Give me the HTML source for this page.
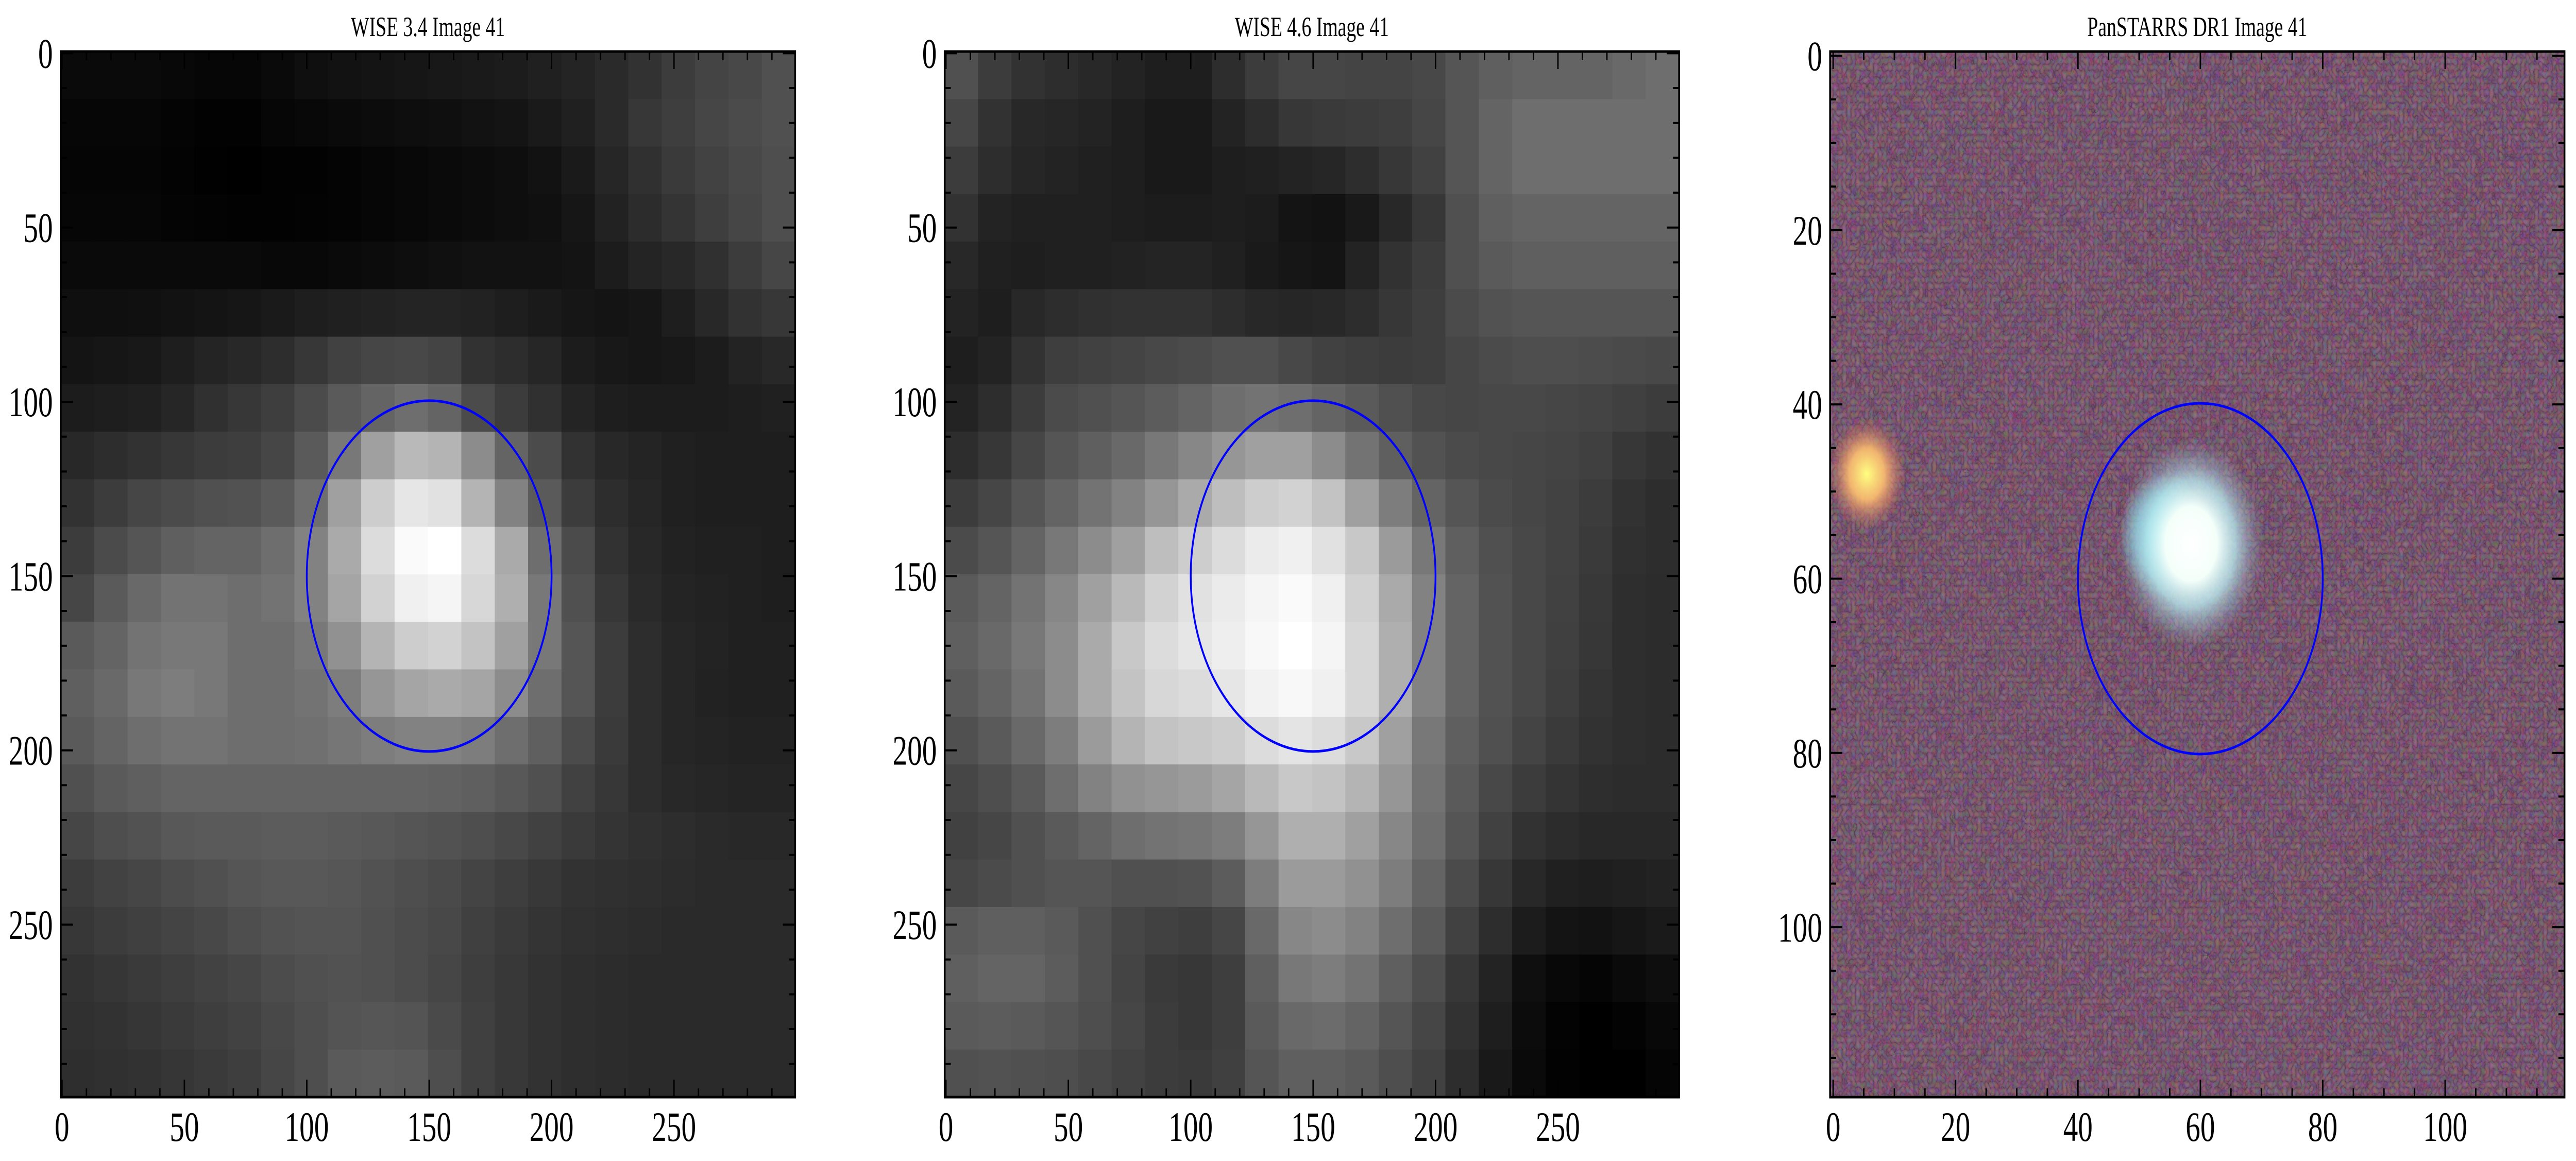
<!DOCTYPE html>
<html><head><meta charset="utf-8"><style>
html,body{margin:0;padding:0;background:#fff;width:100%;height:100%;overflow:hidden;}
svg{display:block;width:100vw;height:100vh;}
text{font-family:"Liberation Serif",serif;fill:#000;}
</style></head><body>
<svg id="fig" viewBox="0 0 7166 2254" preserveAspectRatio="none" xmlns="http://www.w3.org/2000/svg">
<defs>
<radialGradient id="gMain"><stop offset="0" stop-color="#ffffff"/><stop offset="0.35" stop-color="#f4fffa"/><stop offset="0.6" stop-color="#b8e8ee" stop-opacity="0.8"/><stop offset="1" stop-color="#8aa0b8" stop-opacity="0"/></radialGradient>
<radialGradient id="gCyan"><stop offset="0" stop-color="#80ffff"/><stop offset="0.6" stop-color="#80f0ff" stop-opacity="0.6"/><stop offset="1" stop-color="#80f0ff" stop-opacity="0"/></radialGradient>
<radialGradient id="gSec"><stop offset="0" stop-color="#ffff80"/><stop offset="0.45" stop-color="#ffc070" stop-opacity="0.9"/><stop offset="1" stop-color="#e07060" stop-opacity="0"/></radialGradient>
<filter id="noise" x="0" y="0" width="100%" height="100%"><feTurbulence type="turbulence" baseFrequency="0.08" numOctaves="1" seed="3"/><feColorMatrix type="matrix" values="1.4 0 0 0 0  0 1.4 0 0 0  0 0 1.4 0 0  0 0 0 0 0.22"/></filter>
</defs>
</svg>
<script>
const panel1Values = [
[10,10,10,8,6,6,10,15,18,20,22,24,26,28,32,36,42,50,60,68,72,80],
[6,6,6,4,2,2,6,8,10,12,14,15,18,20,26,32,42,55,62,70,75,80],
[5,5,5,3,1,0,2,2,4,6,8,10,12,14,18,26,38,48,58,66,72,78],
[6,6,6,4,3,2,2,3,4,6,8,10,12,14,16,22,34,44,52,62,70,78],
[10,10,10,10,10,10,8,8,10,12,14,16,18,18,18,20,28,36,40,48,60,70],
[15,15,16,18,20,22,26,30,32,34,36,36,34,30,26,22,20,22,30,40,50,55],
[20,22,24,30,36,40,45,55,65,70,72,68,50,45,38,28,24,22,24,28,35,40],
[28,30,32,38,48,55,62,75,90,100,110,100,75,60,48,36,30,28,28,28,30,32],
[40,45,50,55,60,62,70,90,120,160,185,180,140,100,75,50,40,36,32,30,30,30],
[50,60,70,75,80,82,90,110,160,205,230,225,180,130,90,60,45,38,32,30,30,30],
[60,75,85,95,100,100,110,130,170,220,250,255,220,170,110,75,50,40,34,32,32,30],
[70,90,105,115,115,110,115,130,165,210,240,245,215,175,120,80,55,42,36,34,32,30],
[90,100,115,120,120,110,110,120,145,180,205,210,195,160,120,85,60,45,38,35,32,32],
[95,105,120,125,120,110,110,115,125,150,165,170,165,140,110,85,60,45,38,34,32,32],
[90,100,110,115,115,110,110,112,118,125,130,130,125,110,95,75,58,45,38,36,34,34],
[80,90,95,100,100,100,100,100,100,100,100,98,95,88,80,65,55,45,40,38,36,36],
[70,78,82,88,90,90,92,92,90,88,85,82,78,72,65,58,52,48,45,42,40,40],
[60,66,70,76,80,85,88,88,86,82,78,74,68,62,56,50,48,46,44,42,42,42],
[55,60,64,68,72,78,82,84,84,80,76,72,64,58,52,48,46,44,42,42,42,42],
[50,54,58,62,66,70,76,80,82,80,76,70,62,56,50,46,44,42,42,42,42,42],
[48,50,54,58,62,66,72,78,84,86,84,74,64,56,50,46,44,42,42,42,42,42],
[46,48,50,54,58,62,70,78,90,92,90,78,64,56,50,46,44,42,42,42,42,42]
];
const panel2Values = [
[80,60,50,45,40,35,30,30,45,60,70,70,68,68,72,85,95,100,100,100,105,110],
[70,50,40,38,35,30,25,25,35,45,55,58,60,62,70,85,100,110,110,110,110,110],
[60,45,38,35,32,30,25,25,30,32,35,38,45,55,65,85,100,110,110,110,110,110],
[50,35,32,32,32,30,28,28,30,28,20,18,25,40,55,80,95,100,100,100,100,100],
[40,32,30,32,32,34,36,36,32,26,22,20,35,50,60,80,90,95,95,95,95,95],
[35,30,40,45,48,50,50,50,45,40,38,40,45,55,62,75,82,85,85,85,85,85],
[30,35,50,62,65,68,72,75,80,80,72,65,62,60,62,70,75,78,78,76,74,72],
[35,45,60,75,80,85,92,100,110,115,110,100,90,80,72,70,72,72,70,68,64,60],
[45,55,70,85,95,105,120,135,150,160,160,140,115,95,82,75,72,70,68,64,55,50],
[60,70,85,100,115,130,150,170,190,205,210,195,160,125,100,85,75,70,66,60,50,45],
[75,85,100,120,140,160,190,205,220,235,240,225,200,155,120,95,80,72,66,58,48,45],
[90,100,115,135,160,185,210,225,235,245,250,240,210,170,130,100,82,72,65,56,46,44],
[95,105,120,140,170,200,220,230,238,248,255,245,215,175,130,100,82,72,64,55,46,44],
[90,100,115,140,170,195,215,220,230,242,248,240,215,175,130,100,82,72,62,52,46,44],
[80,90,105,125,155,180,195,200,205,220,228,220,200,160,120,95,80,68,58,50,46,44],
[70,78,90,110,130,145,150,155,165,185,200,195,180,150,115,90,72,60,52,46,44,44],
[65,70,80,90,100,110,115,118,125,150,175,175,160,135,110,85,65,50,44,40,40,40],
[70,75,80,85,85,80,80,82,92,125,155,155,145,125,100,75,55,40,32,30,32,34],
[90,95,95,90,80,70,65,62,70,105,135,140,130,110,90,65,45,28,20,18,22,26],
[95,100,100,92,80,68,58,55,62,95,120,125,115,95,78,55,35,15,8,5,10,14],
[90,92,90,85,78,70,60,55,62,90,105,108,100,85,70,50,30,12,3,0,3,8],
[80,82,80,78,72,66,60,58,64,85,95,95,90,78,65,45,25,10,2,0,0,5]
];
const wiseTicks = [0,50,100,150,200,250];
const psTicks = [0,20,40,60,80,100];
const titles = ["WISE 3.4 Image 41","WISE 4.6 Image 41","PanSTARRS DR1 Image 41"];
const circles = [[150,150,50],[150,150,50],[60,60,20]];
const psStars = [[54,55,4.5,'gCyan'],[58.5,56,7.5,'gMain'],[5.5,48,4,'gSec']];

const NS='http://www.w3.org/2000/svg';
const svg=document.getElementById('fig');
const lefts=[169,2628,5091], TOP=100, W=2043, H=2030;
const extents=[300,300,120];
function mk(tag,attrs,parent){const e=document.createElementNS(NS,tag);for(const k in attrs)e.setAttribute(k,attrs[k]);(parent||svg).appendChild(e);return e;}
function sx(p,v){return lefts[p]+(v+0.5)/extents[p]*W;}
function sy(p,v){return TOP+(v+0.5)/extents[p]*H;}

[panel1Values,panel2Values].forEach((grid,p)=>{
  const g=mk('g',{});
  
  
  const n=grid.length, cw=W/grid[0].length, ch=H/n;
  grid.forEach((row,r)=>row.forEach((v,c)=>{
    const rc=mk('rect',{x:lefts[p]+c*cw,y:TOP+r*ch,width:cw+1,height:ch+1,fill:`rgb(${v},${v},${v})`},g);
    
    
  }));
});
{
  const g=mk('g',{});
  
  
  mk('rect',{x:lefts[2],y:TOP,width:W,height:H,fill:'rgb(118,76,106)'},g);
  mk('rect',{x:lefts[2],y:TOP,width:W,height:H,fill:'#000',filter:'url(#noise)'},g);
  psStars.forEach(s=>{
    const r=s[2]/extents[2]*W;
    const c=mk('circle',{cx:sx(2,s[0]),cy:sy(2,s[1]),r:r*1.6,fill:`url(#${s[3]})`},g);
    
    
  });
}
for(let p=0;p<3;p++){
  const ext=extents[p], L=lefts[p];
  const cc=circles[p];
  const ci=mk('circle',{cx:sx(p,cc[0]),cy:sy(p,cc[1]),r:cc[2]/ext*W,fill:'none',stroke:'#0000ff','stroke-width':5});
  
  
  const fr=mk('rect',{x:L,y:TOP,width:W,height:H,fill:'none',stroke:'#000','stroke-width':5});
  
  
  const majors=p<2?wiseTicks:psTicks, minorStep=p<2?10:5;
  for(let v=0;v<ext;v+=minorStep){
    const major=majors.includes(v), len=major?34:17, X=sx(p,v), Y=sy(p,v);
    const d=`M${X},${TOP+H}v${-len}M${X},${TOP}v${len}M${L},${Y}h${len}M${L+W},${Y}h${-len}`;
    mk('path',{d:d,stroke:'#000','stroke-width':4,fill:'none'});
  }
  majors.forEach(v=>{
    const tx=mk('text',{x:sx(p,v),y:TOP+H+85,'text-anchor':'middle','font-size':82});
    tx.textContent=v;
    
    
    const ty=mk('text',{x:L-22,y:sy(p,v)+28,'text-anchor':'end','font-size':82});
    ty.textContent=v;
    
    
  });
  const t=mk('text',{x:L+W/2,y:70,'text-anchor':'middle','font-size':54});
  t.textContent=titles[p];
  
  
}
</script>
</body></html>
